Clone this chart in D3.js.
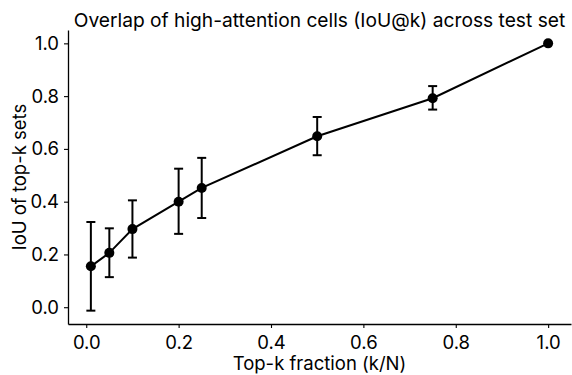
<!DOCTYPE html>
<html>
<head>
<meta charset="utf-8">
<script src="https://d3js.org/d3.v7.min.js"></script>
<style>
  body { margin: 0; background: #fff; }
  svg { font-family: Inter, "DejaVu Sans", sans-serif; }
</style>
</head>
<body>
<div id="chart"></div>
<script>
// Data
var fractions = [0.01, 0.05, 0.1, 0.2, 0.25, 0.5, 0.75, 1.0];
var iouMean = [0.155, 0.206, 0.296, 0.400, 0.452, 0.648, 0.792, 1.0];
var iouLow = [-0.013, 0.114, 0.188, 0.278, 0.338, 0.576, 0.749, 1.0];
var iouHigh = [0.323, 0.299, 0.405, 0.525, 0.566, 0.721, 0.838, 1.0];
var xTicks = [0.0, 0.2, 0.4, 0.6, 0.8, 1.0];
var yTicks = [0.0, 0.2, 0.4, 0.6, 0.8, 1.0];

var svgWidth = 572;
var svgHeight = 375;
var fontSize = 18.5;

var margin = { top: 30, right: 1, bottom: 51, left: 68 };
var width = svgWidth - margin.left - margin.right;
var height = svgHeight - margin.top - margin.bottom;

var svg = d3.select("#chart")
  .append("svg")
  .attr("width", svgWidth)
  .attr("height", svgHeight);

var chartGroup = svg.append("g")
  .attr("transform", `translate(${margin.left}, ${margin.top})`);

var points = fractions.map(function(f, i) {
  return { x: f, y: iouMean[i], lo: iouLow[i], hi: iouHigh[i] };
});

// matplotlib-like 5% margins
var xScale = d3.scaleLinear()
  .domain([-0.0395, 1.0495])
  .range([0, width]);

var yScale = d3.scaleLinear()
  .domain([-0.0636, 1.0506])
  .range([height, 0]);

// axes
var bottomAxis = d3.axisBottom(xScale)
  .tickValues(xTicks)
  .tickFormat(d3.format(".1f"))
  .tickSizeInner(4)
  .tickSizeOuter(0)
  .tickPadding(5);

var leftAxis = d3.axisLeft(yScale)
  .tickValues(yTicks)
  .tickFormat(d3.format(".1f"))
  .tickSizeInner(4)
  .tickSizeOuter(0)
  .tickPadding(5);

var xAxis = chartGroup.append("g")
  .attr("transform", `translate(0, ${height})`)
  .call(bottomAxis);

var yAxis = chartGroup.append("g")
  .call(leftAxis);

[xAxis, yAxis].forEach(function(ax) {
  ax.select(".domain").attr("stroke", "#000").attr("stroke-width", 1.3);
  ax.selectAll(".tick line").attr("stroke", "#000").attr("stroke-width", 1.1);
  ax.selectAll(".tick text")
    .attr("fill", "#000")
    .attr("font-size", fontSize)
    .attr("font-family", "Inter, sans-serif");
});
xAxis.selectAll(".tick text").attr("dy", "0.85em");

// error bars
var errGroup = chartGroup.append("g");
var capHalf = 4.5;
points.filter(d => d.hi > d.lo).forEach(function(d) {
  var cx = xScale(d.x);
  errGroup.append("line")
    .attr("x1", cx).attr("x2", cx)
    .attr("y1", yScale(d.lo)).attr("y2", yScale(d.hi))
    .attr("stroke", "#000").attr("stroke-width", 2);
  [d.lo, d.hi].forEach(function(v) {
    errGroup.append("line")
      .attr("x1", cx - capHalf).attr("x2", cx + capHalf)
      .attr("y1", yScale(v)).attr("y2", yScale(v))
      .attr("stroke", "#000").attr("stroke-width", 2);
  });
});

// line
var line = d3.line()
  .x(d => xScale(d.x))
  .y(d => yScale(d.y));

chartGroup.append("path")
  .datum(points)
  .attr("d", line)
  .attr("fill", "none")
  .attr("stroke", "#000")
  .attr("stroke-width", 2);

// markers
chartGroup.selectAll("circle.pt")
  .data(points)
  .enter()
  .append("circle")
  .attr("class", "pt")
  .attr("cx", d => xScale(d.x))
  .attr("cy", d => yScale(d.y))
  .attr("r", 5)
  .attr("fill", "#000");

// title
svg.append("text")
  .attr("x", margin.left + width / 2)
  .attr("y", 27)
  .attr("text-anchor", "middle")
  .attr("font-size", 19.2)
  .attr("fill", "#000")
  .text("Overlap of high-attention cells (IoU@k) across test set");

// x label
svg.append("text")
  .attr("x", margin.left + width / 2)
  .attr("y", 370)
  .attr("text-anchor", "middle")
  .attr("font-size", fontSize)
  .attr("fill", "#000")
  .text("Top-k fraction (k/N)");

// y label
svg.append("text")
  .attr("transform", "rotate(-90)")
  .attr("x", -(margin.top + height / 2))
  .attr("y", 26)
  .attr("text-anchor", "middle")
  .attr("font-size", fontSize)
  .attr("fill", "#000")
  .text("IoU of top-k sets");
</script>
</body>
</html>
